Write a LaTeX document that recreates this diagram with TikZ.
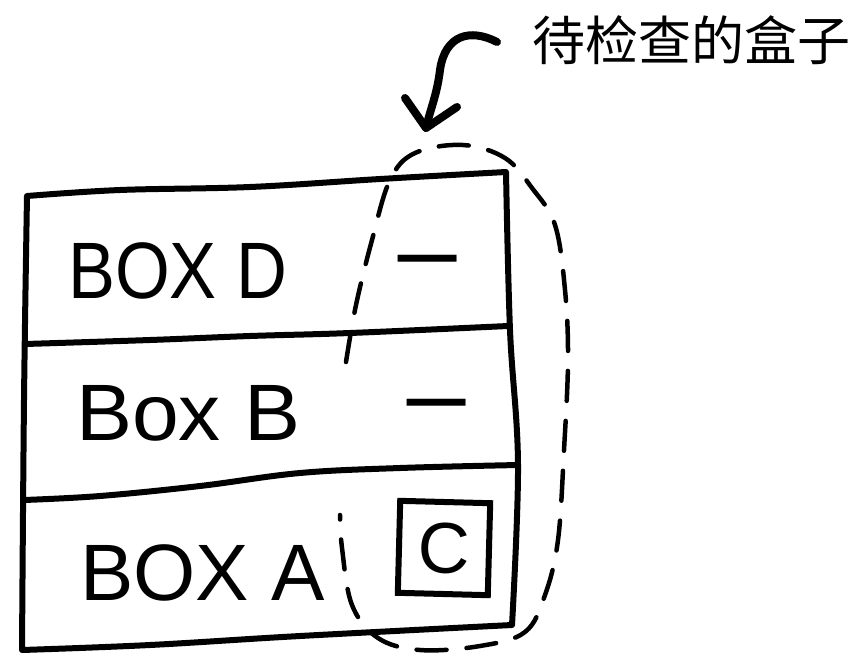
\documentclass[tikz,border=0pt]{standalone}
\usepackage{fontspec}
\setmainfont{Liberation Sans}
\newfontfamily\cjk{Noto Sans CJK SC}
\usetikzlibrary{calc}
\tikzset{
  boxline/.style={line width=6pt, line cap=round, line join=round},
  loopline/.style={line width=4.5pt, line cap=round, dash pattern=on 30pt off 20pt},
  arrowline/.style={line width=8pt, line cap=round, line join=round},
  lbl/.style={anchor=base west, inner sep=0pt, font=\fontsize{80}{80}\selectfont},
  dashlbl/.style={anchor=base, inner sep=0pt, font=\bfseries\fontsize{70}{70}\selectfont},
}
\begin{document}
\begin{tikzpicture}[x=1pt,y=-1pt]
\useasboundingbox (0,0) rectangle (858,653);
% outer box
\draw[boxline] plot[smooth, tension=0.6] coordinates {(27,196) (120,190) (250,187) (380,179) (506,172)}
  -- plot[smooth, tension=0.6] coordinates {(506,172) (510,330) (518,465) (512,625)}
  -- plot[smooth, tension=0.6] coordinates {(512,625) (300,636) (150,645) (22,650)}
  -- plot[smooth, tension=0.6] coordinates {(22,650) (24,400) (27,196)};
% dividers
\draw[boxline] plot[smooth, tension=0.6] coordinates {(25,344) (150,340) (250,336) (350,333) (508,326)};
\draw[boxline] plot[smooth, tension=0.6] coordinates {(24,500) (100,496) (200,486) (300,473) (400,468) (518,465)};
% labels
\node[lbl] (boxd) at (68,298) {\scalebox{0.88}[1]{BOX D}};
\node[lbl] (boxb) at (76,440) {\scalebox{1.05}[1]{Box B}};
\node[lbl] (boxa) at (80,600) {\scalebox{1.0}[1]{BOX A}};
\node[dashlbl] (dd) at (428,277) {\scalebox{1.7}[1]{–}};
\node[dashlbl] (db) at (437,421) {\scalebox{1.7}[1]{–}};
% box C
\node[draw, line width=6pt, minimum width=90pt, minimum height=92pt, inner sep=0pt,
      font=\fontsize{72}{72}\selectfont, rotate=-1.5] (boxc) at (444,548) {C};
% dashed loop
\draw[loopline] plot[smooth, tension=0.6] coordinates {(346,362) (356,305) (372,240) (390,180) (415,153) (463,145) (505,158) (532,188) (555,225) (565,290) (568,360) (564,450) (558,540) (545,595) (525,632) (480,646) (420,650) (378,638) (352,605) (342,548) (340,515)};
% curly arrow
\coordinate (astart) at (497,42);
\coordinate (atip) at (426,128);
\draw[arrowline] (astart) .. controls (470,28) and (445,35) .. (440,70) .. controls (437,95) and (430,110) .. (atip);
\draw[arrowline] (405,98) -- (atip) -- (457,107);
% Chinese label
\node[inner sep=0pt, font=\cjk\fontsize{53}{53}\selectfont] (title) at (691,40) {待检查的盒子};
\end{tikzpicture}
\end{document}
